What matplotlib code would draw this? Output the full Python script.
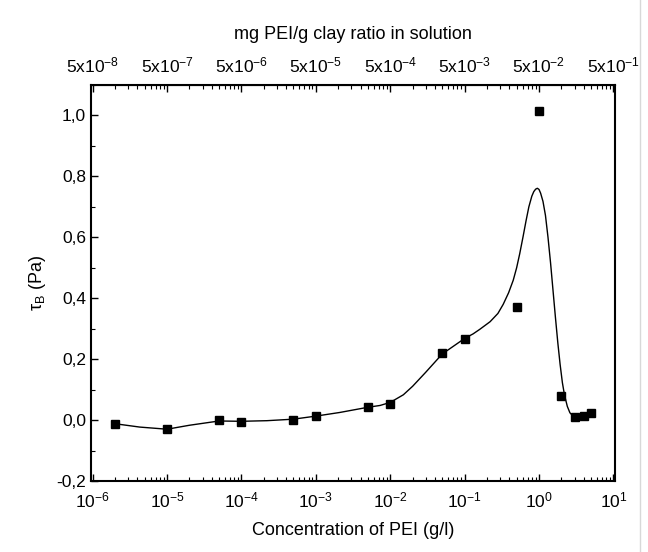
import numpy as np
import matplotlib.pyplot as plt
from matplotlib.ticker import FixedLocator, FuncFormatter, MultipleLocator, NullFormatter
from matplotlib.lines import Line2D

plt.rcParams['font.family'] = ['Liberation Sans', 'DejaVu Sans']
plt.rcParams['mathtext.fontset'] = 'custom'
plt.rcParams['mathtext.rm'] = 'Liberation Sans'
plt.rcParams['mathtext.it'] = 'Liberation Sans:italic'

# measured points
conc = [2e-6, 1e-5, 5e-5, 1e-4, 5e-4, 1e-3, 5e-3, 1e-2, 5e-2, 0.1, 0.5, 1.0, 2.0, 3.0, 4.0, 5.0]
tau = [-0.012, -0.030, 0.001, -0.007, 0.001, 0.014, 0.042, 0.054, 0.221, 0.267, 0.372, 1.016, 0.080, 0.009, 0.012, 0.022]

# guide curve
curve_x = [2e-6, 4.3e-6, 1e-5, 2e-5, 5e-5, 1e-4, 2.2e-4, 5e-4, 1e-3, 2.1e-3, 5e-3, 7.3e-3,
           1e-2, 1.5e-2, 2e-2, 3e-2, 5e-2, 0.1, 0.13, 0.16, 0.22, 0.28, 0.33, 0.39, 0.45,
           0.5, 0.55, 0.61, 0.67, 0.73, 0.8, 0.85, 0.9, 0.95, 1.0, 1.05, 1.13, 1.22,
           1.32, 1.43, 1.54, 1.66, 1.79, 1.92, 2.06, 2.2, 2.4, 2.6, 2.9, 3.2, 4.0, 5.0]
curve_y = [-0.012, -0.023, -0.030, -0.017, -0.003, -0.004, -0.002, 0.003, 0.013, 0.025, 0.042, 0.048,
           0.058, 0.083, 0.111, 0.157, 0.217, 0.268, 0.283, 0.298, 0.323, 0.350, 0.380, 0.418, 0.459,
           0.500, 0.546, 0.602, 0.655, 0.700, 0.735, 0.750, 0.758, 0.761, 0.757, 0.745, 0.718, 0.672,
           0.600, 0.515, 0.427, 0.338, 0.253, 0.183, 0.123, 0.082, 0.045, 0.024, 0.012, 0.008, 0.012, 0.022]

bottom_exp = [-6, -5, -4, -3, -2, -1, 0, 1]
top_exp = [-8, -7, -6, -5, -4, -3, -2, -1]
ratio = 0.05

fig = plt.figure(figsize=(6.48, 5.52), dpi=100)
ax = fig.add_axes([91/648, 1-481/552, (615-91)/648, (481-85)/552])

ax.plot(curve_x, curve_y, color='black', lw=1.0)
ax.plot(conc, tau, 's', color='black', ms=6)

ax.set_xscale('log')
ax.set_xlim(9.5e-7, 1.05e1)
ax.set_ylim(-0.2, 1.1)

ax.set_xticks([10.0**e for e in bottom_exp])
ax.set_xticklabels([r'10$^{%d}$' % e for e in bottom_exp])
ax.yaxis.set_major_locator(MultipleLocator(0.2))
ax.yaxis.set_minor_locator(MultipleLocator(0.1))
ax.yaxis.set_major_formatter(FuncFormatter(lambda v, p: ('%.1f' % v).replace('.', ',').replace('-0,0', '0,0')))

ax.tick_params(which='both', direction='in', top=False, right=False, labelsize=12.5)
ax.tick_params(which='major', length=5, width=1)
ax.tick_params(which='minor', length=3, width=0.8)
ax.tick_params(axis='x', pad=7)
for s in ax.spines.values():
    s.set_linewidth(1.5)

ax.set_xlabel('Concentration of PEI (g/l)', fontsize=13, labelpad=8)
ax.set_ylabel(r'$\mathrm{\tau_B}$ (Pa)', fontsize=13, labelpad=6)

top = ax.secondary_xaxis('top', functions=(lambda x: x*ratio, lambda x: x/ratio))
top.set_xticks([5*10.0**e for e in top_exp])
top.set_xticklabels([r'5x10$^{%d}$' % e for e in top_exp])
minor_top = [ratio*k*10.0**e for e in range(-7, 2) for k in range(2, 10)]
top.xaxis.set_minor_locator(FixedLocator(minor_top))
top.xaxis.set_minor_formatter(NullFormatter())
top.tick_params(which='both', direction='in', labelsize=12.5, pad=7)
top.tick_params(which='major', length=5, width=1)
top.tick_params(which='minor', length=3, width=0.8)
top.set_xlabel('mg PEI/g clay ratio in solution', fontsize=13, labelpad=12)

# faint scan line at right edge
fig.add_artist(Line2D([640/648, 640/648], [0, 1], color='#d8d8d8', lw=1))

fig.savefig('out.png', dpi=100)
